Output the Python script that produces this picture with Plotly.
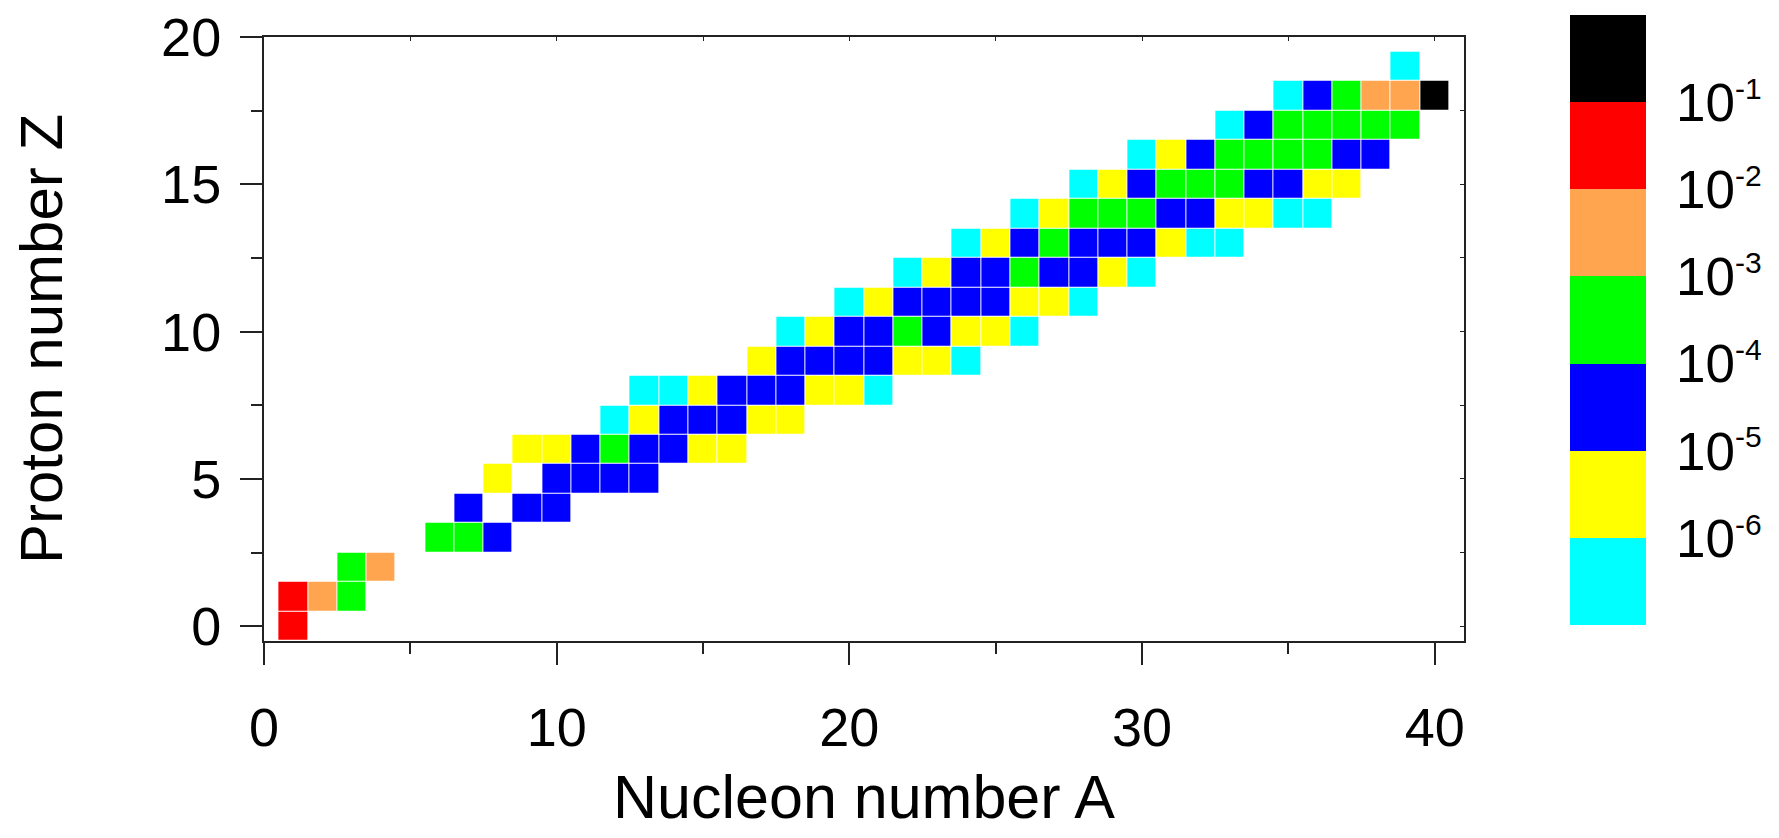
import numpy as np
import plotly.graph_objects as go

# ---- data ----
# Proton number Z of each row
row_Z = list(range(20))
# Nucleon numbers A present in each row
row_A = [
    [1],
    [1, 2, 3],
    [3, 4],
    [6, 7, 8],
    [7, 9, 10],
    [8, 10, 11, 12, 13],
    [9, 10, 11, 12, 13, 14, 15, 16],
    [12, 13, 14, 15, 16, 17, 18],
    [13, 14, 15, 16, 17, 18, 19, 20, 21],
    [17, 18, 19, 20, 21, 22, 23, 24],
    [18, 19, 20, 21, 22, 23, 24, 25, 26],
    [20, 21, 22, 23, 24, 25, 26, 27, 28],
    [22, 23, 24, 25, 26, 27, 28, 29, 30],
    [24, 25, 26, 27, 28, 29, 30, 31, 32, 33],
    [26, 27, 28, 29, 30, 31, 32, 33, 34, 35, 36],
    [28, 29, 30, 31, 32, 33, 34, 35, 36, 37],
    [30, 31, 32, 33, 34, 35, 36, 37, 38],
    [33, 34, 35, 36, 37, 38, 39],
    [35, 36, 37, 38, 39, 40],
    [39],
]
# Abundance band of each cell, given as log10 of the band's lower edge
row_band = [
    [-2],
    [-2, -3, -4],
    [-4, -3],
    [-4, -4, -5],
    [-5, -5, -5],
    [-6, -5, -5, -5, -5],
    [-6, -6, -5, -4, -5, -5, -6, -6],
    [-7, -6, -5, -5, -5, -6, -6],
    [-7, -7, -6, -5, -5, -5, -6, -6, -7],
    [-6, -5, -5, -5, -5, -6, -6, -7],
    [-7, -6, -5, -5, -4, -5, -6, -6, -7],
    [-7, -6, -5, -5, -5, -5, -6, -6, -7],
    [-7, -6, -5, -5, -4, -5, -5, -6, -7],
    [-7, -6, -5, -4, -5, -5, -5, -6, -7, -7],
    [-7, -6, -4, -4, -4, -5, -5, -6, -6, -7, -7],
    [-7, -6, -5, -4, -4, -4, -5, -5, -6, -6],
    [-7, -6, -5, -4, -4, -4, -4, -5, -5],
    [-7, -5, -4, -4, -4, -4, -4],
    [-7, -5, -4, -3, -3, -1],
    [-7],
]
band_colors = ["#00FFFF", "#FFFF00", "#0000FF", "#00FF00", "#FFA54F", "#FF0000", "#000000"]
cbar_tick_exponents = [-6, -5, -4, -3, -2, -1]
x_ticks = [0, 10, 20, 30, 40]
y_ticks = [0, 5, 10, 15, 20]

# ---- build grid ----
A_axis = np.arange(0, 41)
Z_axis = np.array(row_Z)
grid = np.full((len(Z_axis), len(A_axis)), np.nan)
for z, a_list, b_list in zip(row_Z, row_A, row_band):
    for a, b in zip(a_list, b_list):
        grid[z, a] = b + 0.5

n = len(band_colors)
colorscale = []
for i, c in enumerate(band_colors):
    colorscale.append([i / n, c])
    colorscale.append([(i + 1) / n, c])

FONT = "Liberation Sans, Arial, sans-serif"
# the page body has an 8 px margin, so the figure is placed at (8, 8)
OFF = 8
W, H = 1779 - 2 * OFF, 838 - 2 * OFF
PL, PR, PT, PB = 264 - OFF, 1464 - OFF, 37 - OFF, 641 - OFF

fig = go.Figure()
fig.add_trace(go.Heatmap(
    x=A_axis, y=Z_axis, z=grid,
    zmin=-7, zmax=0,
    colorscale=colorscale,
    xgap=1, ygap=1,
    hoverongaps=False,
    colorbar=dict(
        xref="container", yref="container",
        x=(1570 - OFF) / W, xanchor="left",
        y=1 - (18 - OFF) / H, yanchor="top",
        lenmode="pixels", len=610,
        thicknessmode="pixels", thickness=76,
        xpad=0, ypad=0,
        outlinewidth=0,
        tickvals=cbar_tick_exponents,
        ticktext=[f"10<sup><span style='font-size:30px'>{e}</span></sup>" for e in cbar_tick_exponents],
        ticks="outside", ticklen=20, tickcolor="rgba(0,0,0,0)",
        tickfont=dict(family=FONT, size=53, color="black"),
    ),
))
# empty helper trace for the small inner mirror ticks
fig.add_trace(go.Scatter(x=[], y=[], xaxis="x2", yaxis="y2", showlegend=False, hoverinfo="skip"))

axis_common = dict(
    showgrid=False, zeroline=False,
    showline=True, linecolor="#222", linewidth=2, mirror=True,
    ticks="outside", tickcolor="#222", tickwidth=2, ticklen=22,
    tickfont=dict(family=FONT, size=54, color="black"),
    ticklabeloverflow="allow",
)
plot_h = PB - PT
fig.update_layout(
    width=W, height=H,
    margin=dict(l=PL, r=W - PR, t=PT, b=H - PB, autoexpand=False),
    paper_bgcolor="white", plot_bgcolor="white",
    font=dict(family=FONT, color="black"),
    showlegend=False,
    xaxis=dict(
        axis_common,
        range=[0, 41], tickvals=x_ticks,
        minor=dict(tickvals=[5, 15, 25, 35], ticks="outside", ticklen=11, tickwidth=2, tickcolor="#222"),
        ticklabelstandoff=16,
    ),
    yaxis=dict(
        axis_common,
        range=[-0.5, 20], tickvals=y_ticks,
        minor=dict(tickvals=[2.5, 7.5, 12.5, 17.5], ticks="outside", ticklen=11, tickwidth=2, tickcolor="#222"),
        ticklabelstandoff=8,
        title=dict(text="Proton number Z", font=dict(family=FONT, size=60), standoff=90),
    ),
    xaxis2=dict(
        overlaying="x", side="top", range=[0, 41], dtick=5, tick0=0,
        ticks="inside", ticklen=4, tickwidth=1, tickcolor="#222",
        showticklabels=False, showgrid=False, zeroline=False, showline=False,
    ),
    yaxis2=dict(
        overlaying="y", side="right", range=[-0.5, 20], dtick=2.5, tick0=0,
        ticks="inside", ticklen=4, tickwidth=1, tickcolor="#222",
        showticklabels=False, showgrid=False, zeroline=False, showline=False,
    ),
    annotations=[dict(
        text="Nucleon number A", showarrow=False,
        xref="paper", yref="paper", x=0.5, xanchor="center",
        y=(PB - (797 - OFF)) / plot_h, yanchor="middle",
        font=dict(family=FONT, size=61, color="black"),
    )],
)

fig.write_html("out.html")
